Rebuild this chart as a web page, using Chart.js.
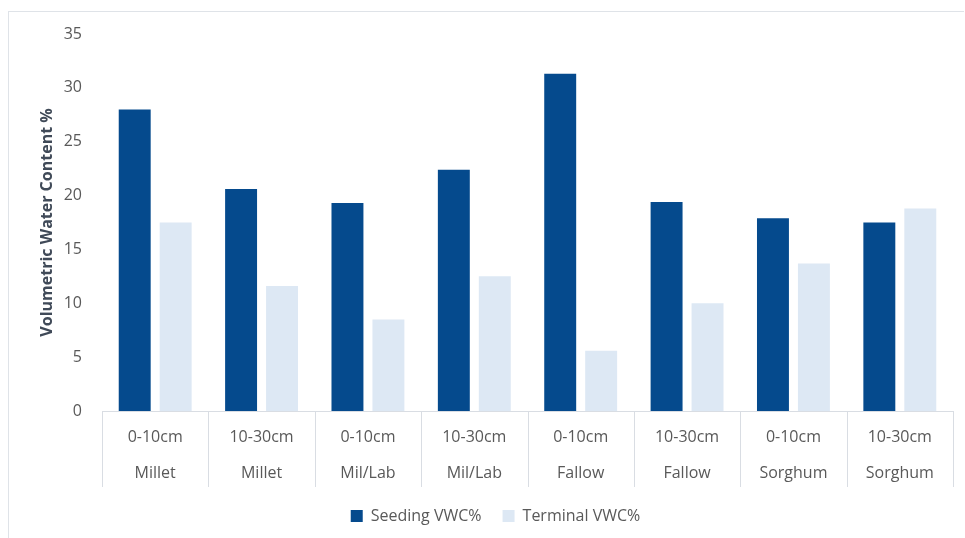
<!DOCTYPE html>
<html>
<head>
<meta charset="utf-8">
<script src="https://cdn.jsdelivr.net/npm/chart.js@4/dist/chart.umd.min.js"></script>
<style>
  html, body { margin: 0; padding: 0; background: #fff; }
  #wrap { position: relative; width: 965px; height: 538px; }
  #frame { position: absolute; left: 8px; top: 11px; width: 956px; height: 540px;
           border-top: 1px solid #dfe3e8; border-left: 1px solid #dfe3e8; box-sizing: border-box; }
  canvas { position: absolute; left: 0; top: 0; }
</style>
</head>
<body>
<div id="wrap">
  <div id="frame"></div>
  <canvas id="grafica" width="965" height="538"></canvas>
</div>
<script>
// datos
var profundidades = ["0-10cm", "10-30cm", "0-10cm", "10-30cm", "0-10cm", "10-30cm", "0-10cm", "10-30cm"];
var cultivos = ["Millet", "Millet", "Mil/Lab", "Mil/Lab", "Fallow", "Fallow", "Sorghum", "Sorghum"];
var seedingVWC = [28.0, 20.6, 19.3, 22.4, 31.3, 19.4, 17.9, 17.5];
var terminalVWC = [17.5, 11.6, 8.5, 12.5, 5.6, 10.0, 13.7, 18.8];
var ticksY = [0, 5, 10, 15, 20, 25, 30, 35];

var gris = "#595959";
var linea = "#d9dde3";

// lineas verticales que separan las categorias debajo del eje
var separadores = {
    id: "separadores",
    afterDraw: function(chart){
        var eje = chart.scales.x;
        var n = eje.ticks.length;
        var ancho = (eje.right - eje.left) / n;
        var c = chart.ctx;
        c.save();
        c.strokeStyle = linea;
        c.lineWidth = 1;
        c.beginPath();
        for (var i = 0; i <= n; i++) {
            var x = Math.round(eje.left + i * ancho) + 0.5;
            c.moveTo(x, eje.top);
            c.lineTo(x, eje.top + 76);
        }
        c.stroke();
        c.restore();
    }
};

document.addEventListener("DOMContentLoaded", function(){
    graficar();
});

function graficar(){
    var etiquetas = [];
    for (var i = 0; i < profundidades.length; i++) {
        etiquetas.push([profundidades[i], cultivos[i]]);
    }

    var ctx = document.getElementById("grafica").getContext("2d");
    new Chart(ctx, {
        type: "bar",
        data: {
            labels: etiquetas,
            datasets: [{
                label: "Seeding VWC%",
                data: seedingVWC,
                backgroundColor: "#054a8d",
                categoryPercentage: 0.77,
                barPercentage: 0.78
            }, {
                label: "Terminal VWC%",
                data: terminalVWC,
                backgroundColor: "#dde8f4",
                categoryPercentage: 0.77,
                barPercentage: 0.78
            }]
        },
        plugins: [separadores],
        options: {
            responsive: false,
            animation: false,
            layout: { padding: { left: 38, right: 12, top: 34, bottom: 4 } },
            plugins: {
                legend: {
                    position: "bottom",
                    labels: {
                        boxWidth: 12,
                        boxHeight: 12,
                        color: gris,
                        font: { family: "Open Sans", size: 16 },
                        padding: 21
                    }
                },
                tooltip: { enabled: false }
            },
            scales: {
                x: {
                    afterFit: function(eje){ eje.height = 76; },
                    grid: { display: false, drawTicks: false },
                    border: { display: true, color: linea },
                    ticks: {
                        color: gris,
                        maxRotation: 0,
                        padding: 8,
                        font: { family: "Open Sans", size: 16, lineHeight: 2.25 }
                    }
                },
                y: {
                    min: 0,
                    max: 35,
                    afterFit: function(eje){ eje.width = 64; },
                    afterBuildTicks: function(eje){
                        eje.ticks = ticksY.map(function(v){ return { value: v }; });
                    },
                    grid: { display: false, drawTicks: false },
                    border: { display: false },
                    ticks: {
                        color: gris,
                        padding: 20,
                        font: { family: "Open Sans", size: 16 }
                    },
                    title: {
                        display: true,
                        text: "Volumetric Water Content %",
                        color: "#404a58",
                        font: { family: "Open Sans", size: 16, weight: "bold" },
                        padding: { top: 0, bottom: 7 }
                    }
                }
            }
        }
    });
}
</script>
</body>
</html>
